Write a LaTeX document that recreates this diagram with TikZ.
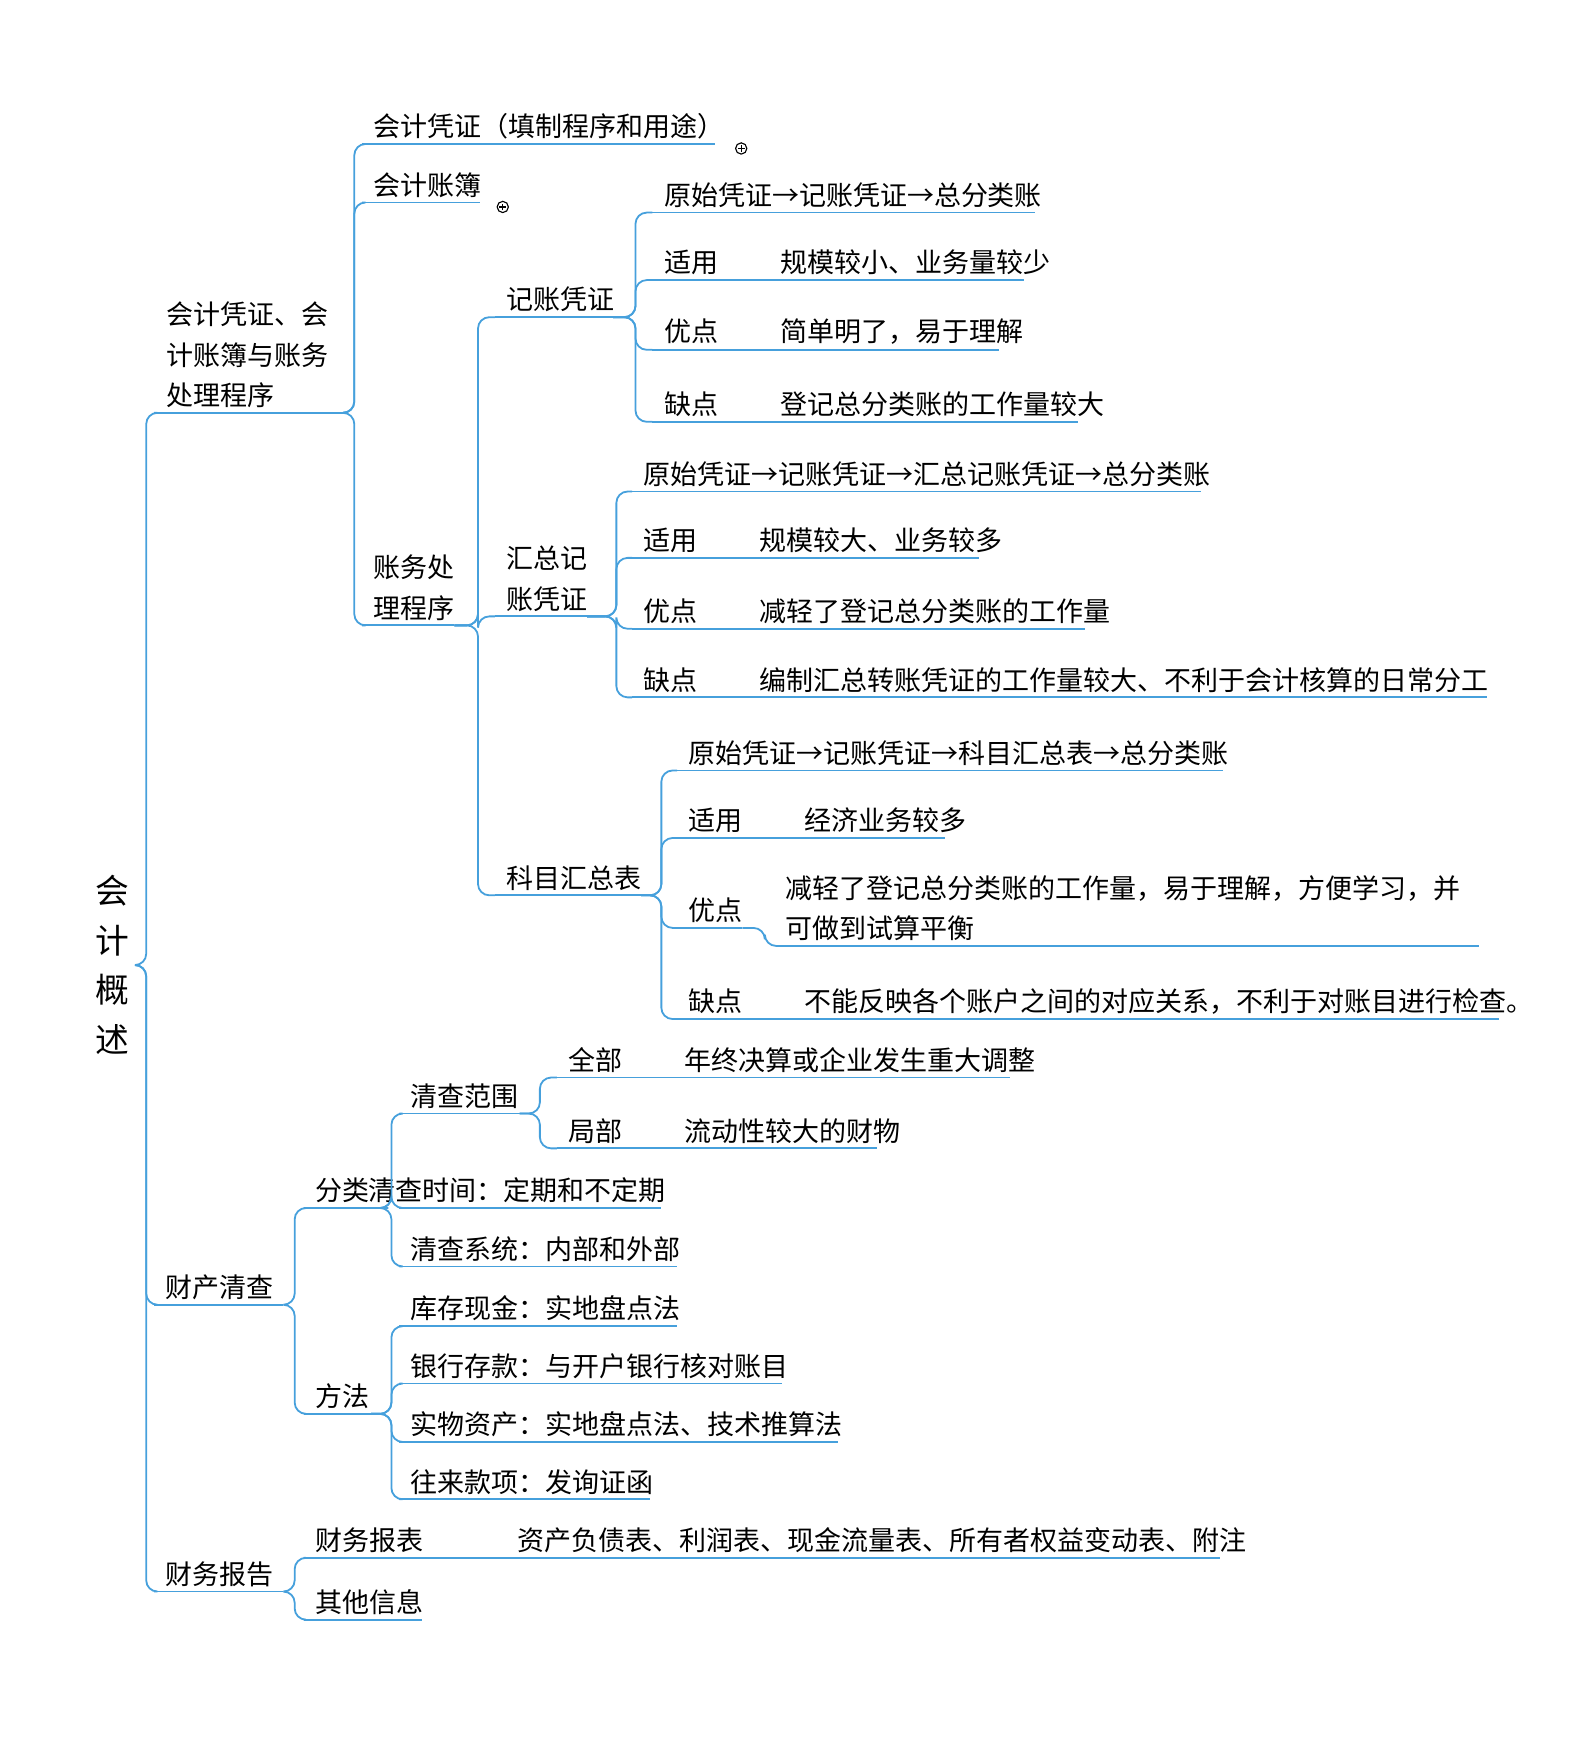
\documentclass[tikz,border=0pt]{standalone}
\usepackage{fontspec}
\setmainfont{Noto Sans CJK SC}
\begin{document}
\begin{tikzpicture}[x=0.5pt,y=-0.5pt,
  lbl/.style={inner sep=0pt,anchor=south west,align=left,font=\fontsize{12}{18}\selectfont},
  ul/.style={draw=lineblue,line width=0.8pt},
  ln/.style={draw=lineblue,line width=0.8pt,rounded corners=5pt}]
\definecolor{lineblue}{RGB}{70,160,220}
\useasboundingbox (0,0) rectangle (1410,1563);
\newcommand\mmx[6]{\coordinate (#1s) at (#2,#4); \coordinate (#1e) at (#3,#4);
  \node[lbl] (#1) at (#6,#4-4) {#5}; \draw[ul] (#1s)--(#1e);}
\newcommand\mm[5]{\mmx{#1}{#2}{#3}{#4}{#5}{#2+10}}
\newcommand\cn[3]{\draw[ln] (#1) -- (#1 -| #2) -- (#2 |- #3) -- (#3);}
\newcommand\plusmark[1]{\node[circle,draw,inner sep=0pt,minimum size=5pt,line width=0.5pt] at #1 {}; \draw[line width=0.5pt] #1 ++(-1.5pt,0) -- ++(3pt,0) #1 ++(0,-1.5pt) -- ++(0,3pt);}
% root
\node[inner sep=0pt,align=center,font=\fontsize{15}{22}\selectfont] (root) at (100,858) {会\\计\\概\\述};
\coordinate (rootE) at (120,858);
% level 1
\mmx{A}{137}{308}{367}{会计凭证、会\\计账簿与账务\\处理程序}{148}
\mm{B}{137}{252}{1160}{财产清查}
\mm{C}{137}{252}{1415}{财务报告}
\coordinate (b0) at (130,0);
\cn{rootE}{b0}{As}\cn{rootE}{b0}{Bs}\cn{rootE}{b0}{Cs}
% A children
\mm{A1}{322}{636}{128}{会计凭证（填制程序和用途）}
\mm{A2}{322}{427}{180}{会计账簿}
\mm{A3}{322}{404}{556}{账务处\\理程序}
\plusmark{(659,132)}\plusmark{(447,184)}
\coordinate (bA) at (315,0);
\cn{Ae}{bA}{A1s}\cn{Ae}{bA}{A2s}\cn{Ae}{bA}{A3s}
% A3 children
\mm{P1}{440}{545}{282}{记账凭证}
\mm{P2}{440}{522}{548}{汇总记\\账凭证}
\mm{P3}{440}{570}{796}{科目汇总表}
\coordinate (bP) at (425,0);
\cn{A3e}{bP}{P1s}\cn{A3e}{bP}{P2s}\cn{A3e}{bP}{P3s}
% P1 children
\mm{Q1}{580}{920}{189}{原始凭证→记账凭证→总分类账}
\mm{Q2}{580}{910}{249}{适用\hspace{2.3em}规模较小、业务量较少}
\mm{Q3}{580}{888}{311}{优点\hspace{2.3em}简单明了，易于理解}
\mm{Q4}{580}{958}{375}{缺点\hspace{2.3em}登记总分类账的工作量较大}
\coordinate (bQ) at (565,0);
\foreach \i in {1,...,4}{\cn{P1e}{bQ}{Q\i s}}
% P2 children
\mm{R1}{562}{1068}{437}{原始凭证→记账凭证→汇总记账凭证→总分类账}
\mm{R2}{562}{870}{496}{适用\hspace{2.3em}规模较大、业务较多}
\mm{R3}{562}{965}{559}{优点\hspace{2.3em}减轻了登记总分类账的工作量}
\mm{R4}{562}{1322}{620}{缺点\hspace{2.3em}编制汇总转账凭证的工作量较大、不利于会计核算的日常分工}
\coordinate (bR) at (548,0);
\foreach \i in {1,...,4}{\cn{P2e}{bR}{R\i s}}
% P3 children
\mm{S1}{602}{1087}{685}{原始凭证→记账凭证→科目汇总表→总分类账}
\mm{S2}{602}{840}{745}{适用\hspace{2.3em}经济业务较多}
\mm{S3}{602}{660}{825}{优点}
\mm{S4}{602}{1333}{906}{缺点\hspace{2.3em}不能反映各个账户之间的对应关系，不利于对账目进行检查。}
\coordinate (bS) at (588,0);
\foreach \i in {1,...,4}{\cn{P3e}{bS}{S\i s}}
\mmx{S3a}{690}{1315}{841}{减轻了登记总分类账的工作量，易于理解，方便学习，并\\可做到试算平衡}{698}
\coordinate (bS3) at (680,0);
\cn{S3e}{bS3}{S3as}
% B children
\mm{B1}{270}{345}{1074}{分类}
\mm{B2}{270}{330}{1257}{方法}
\coordinate (bB) at (262,0);
\cn{Be}{bB}{B1s}\cn{Be}{bB}{B2s}
% B1 children
\mm{F1}{355}{462}{990}{清查范围}
\mmx{F2}{355}{588}{1074}{清查时间：定期和不定期}{327}
\mm{F3}{355}{602}{1126}{清查系统：内部和外部}
\coordinate (bF) at (348,0);
\foreach \i in {1,...,3}{\cn{B1e}{bF}{F\i s}}
% F1 children
\mm{G1}{495}{898}{958}{全部\hspace{2.3em}年终决算或企业发生重大调整}
\mm{G2}{495}{780}{1021}{局部\hspace{2.3em}流动性较大的财物}
\coordinate (bG) at (480,0);
\cn{F1e}{bG}{G1s}\cn{F1e}{bG}{G2s}
% B2 children
\mm{M1}{355}{602}{1179}{库存现金：实地盘点法}
\mm{M2}{355}{695}{1230}{银行存款：与开户银行核对账目}
\mm{M3}{355}{745}{1282}{实物资产：实地盘点法、技术推算法}
\mm{M4}{355}{578}{1333}{往来款项：发询证函}
\coordinate (bM) at (348,0);
\foreach \i in {1,...,4}{\cn{B2e}{bM}{M\i s}}
% C children
\mm{C1}{270}{1085}{1385}{财务报表\hspace{3.5em}资产负债表、利润表、现金流量表、所有者权益变动表、附注}
\mm{C2}{270}{375}{1440}{其他信息}
\coordinate (bC) at (262,0);
\cn{Ce}{bC}{C1s}\cn{Ce}{bC}{C2s}
\end{tikzpicture}
\end{document}
